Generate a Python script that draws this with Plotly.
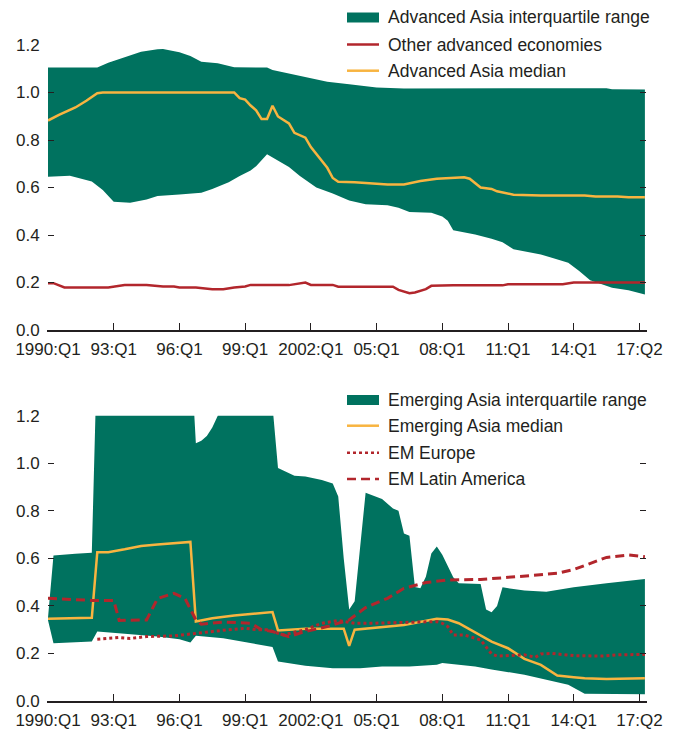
import plotly.graph_objects as go
from plotly.subplots import make_subplots

# x positions are quarter indexes, 0 = 1990:Q1, 109 = 2017:Q2
tick_q = [0, 12, 24, 36, 48, 60, 72, 84, 96, 108]
tick_labels = ["1990:Q1", "93:Q1", "96:Q1", "99:Q1", "2002:Q1", "05:Q1", "08:Q1", "11:Q1", "14:Q1", "17:Q2"]

# Top panel: advanced economies
adv_upper_q = [0, 9, 11, 14, 17, 20, 21, 24, 26, 28, 31, 34, 37, 40, 41, 44, 48, 51, 55, 60, 65, 74, 78, 96, 102, 103, 109]
adv_upper = [1.105, 1.105, 1.125, 1.148, 1.172, 1.182, 1.183, 1.17, 1.154, 1.13, 1.123, 1.106, 1.105, 1.105, 1.095,
             1.08, 1.058, 1.045, 1.035, 1.021, 1.017, 1.017, 1.015, 1.015, 1.018, 1.014, 1.013]

adv_lower_q = [0, 4, 8, 10, 12, 15, 18, 20, 24, 28, 30, 33, 35, 37, 38, 40, 44, 46, 49, 52, 55, 58, 62, 64, 66, 70,
               72, 73, 74, 78, 81, 83, 85, 90, 92, 95, 97, 99, 100, 103, 106, 109]
adv_lower = [0.645, 0.65, 0.625, 0.59, 0.54, 0.536, 0.55, 0.564, 0.571, 0.578, 0.594, 0.622, 0.648, 0.672, 0.69, 0.74,
             0.686, 0.648, 0.6, 0.575, 0.545, 0.53, 0.525, 0.515, 0.497, 0.494, 0.478, 0.46, 0.42, 0.402, 0.384, 0.37,
             0.34, 0.318, 0.304, 0.283, 0.248, 0.21, 0.2, 0.178, 0.167, 0.15]

adv_median_q = [0, 2, 5, 7, 9, 10, 34, 35, 36, 37, 38, 39, 40, 41, 42, 44, 45, 47, 48, 51, 52, 53, 56, 59, 62, 65, 68,
                71, 74, 76, 77, 79, 81, 82, 85, 90, 98, 100, 104, 106, 109]
adv_median = [0.882, 0.906, 0.937, 0.965, 0.997, 1.0, 1.0, 0.976, 0.97, 0.945, 0.925, 0.888, 0.888, 0.944, 0.899,
              0.87, 0.83, 0.81, 0.77, 0.683, 0.64, 0.624, 0.622, 0.617, 0.613, 0.613, 0.627, 0.637, 0.639, 0.643,
              0.637, 0.6, 0.594, 0.584, 0.57, 0.566, 0.566, 0.562, 0.562, 0.559, 0.559]

other_adv_q = [0, 1, 3, 11, 14, 18, 21, 23, 24, 27, 30, 32, 34, 36, 37, 39, 44, 47, 48, 52, 53, 63, 64, 66, 67, 69,
               70, 74, 83, 84, 94, 96, 109]
other_adv = [0.197, 0.197, 0.179, 0.179, 0.189, 0.189, 0.183, 0.183, 0.179, 0.179, 0.172, 0.172, 0.179, 0.183, 0.19,
             0.189, 0.189, 0.2, 0.19, 0.19, 0.182, 0.182, 0.169, 0.155, 0.158, 0.172, 0.186, 0.188, 0.188, 0.193,
             0.193, 0.2, 0.2]

# Bottom panel: emerging markets (upper quartile runs off the chart in the 1990s)
em_upper_q = [0, 1, 5, 8, 9, 26, 27, 28, 29, 30, 31, 32, 40, 41, 42, 45, 47, 50, 52, 53, 54, 55, 56, 58, 61, 63, 64,
              65, 66, 67, 68, 69, 70, 71, 72, 74, 75, 79, 80, 81, 82, 83, 84, 87, 91, 96, 102, 109]
em_upper = [0.35, 0.612, 0.619, 0.624, 1.5, 1.5, 1.084, 1.095, 1.115, 1.15, 1.2, 1.5, 1.5, 1.25, 0.98, 0.947, 0.944,
            0.93, 0.915, 0.86, 0.6, 0.385, 0.42, 0.876, 0.85, 0.81, 0.8, 0.705, 0.695, 0.48, 0.474, 0.523, 0.62,
            0.65, 0.615, 0.52, 0.495, 0.492, 0.385, 0.373, 0.4, 0.478, 0.474, 0.465, 0.46, 0.478, 0.495, 0.513]

em_lower_q = [0, 1, 8, 9, 14, 20, 24, 26, 27, 32, 37, 41, 42, 47, 52, 57, 61, 66, 71, 72, 78, 81, 87, 91, 95, 98, 109]
em_lower = [0.34, 0.243, 0.25, 0.292, 0.283, 0.271, 0.26, 0.246, 0.274, 0.264, 0.243, 0.227, 0.166, 0.148, 0.138,
            0.138, 0.145, 0.145, 0.152, 0.16, 0.145, 0.133, 0.11, 0.089, 0.068, 0.03, 0.028]

em_median_q = [0, 8, 9, 11, 14, 17, 20, 23, 26, 27, 30, 34, 37, 41, 42, 47, 54, 55, 56, 59, 65, 71, 73, 75, 79, 81,
               84, 87, 90, 93, 96, 98, 102, 109]
em_median = [0.346, 0.35, 0.626, 0.626, 0.638, 0.652, 0.658, 0.664, 0.669, 0.334, 0.348, 0.36, 0.367, 0.374, 0.297,
             0.304, 0.304, 0.232, 0.3, 0.306, 0.32, 0.346, 0.343, 0.327, 0.278, 0.25, 0.222, 0.177, 0.152, 0.107,
             0.1, 0.096, 0.093, 0.096]

em_europe_q = [9, 13, 15, 18, 23, 27, 30, 33, 36, 38, 40, 43, 47, 50, 53, 56, 59, 65, 71, 72, 73, 74, 76, 79, 81, 82,
               87, 89, 90, 92, 96, 101, 104, 109]
em_europe = [0.26, 0.267, 0.263, 0.271, 0.274, 0.285, 0.292, 0.3, 0.306, 0.3, 0.3, 0.278, 0.3, 0.327, 0.339, 0.327,
             0.327, 0.33, 0.334, 0.327, 0.313, 0.278, 0.278, 0.257, 0.198, 0.189, 0.194, 0.184, 0.198, 0.2, 0.191,
             0.189, 0.194, 0.196]

em_latam_q = [0, 8, 12, 13, 18, 20, 23, 25, 27, 28, 32, 37, 39, 41, 44, 47, 51, 55, 58, 62, 65, 69, 73, 79, 84, 90,
              93, 96, 99, 102, 106, 109]
em_latam = [0.432, 0.423, 0.423, 0.339, 0.341, 0.431, 0.453, 0.432, 0.341, 0.323, 0.332, 0.327, 0.3, 0.292, 0.271,
            0.292, 0.313, 0.341, 0.393, 0.432, 0.474, 0.498, 0.509, 0.511, 0.52, 0.53, 0.537, 0.553, 0.579, 0.604,
            0.614, 0.607]

GREEN = "#00725f"
ORANGE = "#f8b440"
RED = "#b2262c"
INK = "#231f20"
FONT = "Liberation Sans, Arial, sans-serif"

W, H = 680, 729
L, R, T, B = 48, 34, 45, 28


def fx(px):
    return (px - L) / (W - L - R)


def fy(py):
    return (H - B - py) / (H - T - B)


def band(up_q, up, lo_q, lo):
    # polygon: upper edge left-to-right, lower edge back
    return go.Scatter(x=up_q + lo_q[::-1], y=up + lo[::-1], fill="toself", fillcolor=GREEN,
                      mode="lines", line=dict(width=0, color=GREEN), hoverinfo="skip")


fig = make_subplots(rows=2, cols=1)

fig.add_trace(band(adv_upper_q, adv_upper, adv_lower_q, adv_lower), row=1, col=1)
fig.add_trace(go.Scatter(x=other_adv_q, y=other_adv, mode="lines", line=dict(color=RED, width=2.5)), row=1, col=1)
fig.add_trace(go.Scatter(x=adv_median_q, y=adv_median, mode="lines", line=dict(color=ORANGE, width=2.5)), row=1, col=1)

fig.add_trace(band(em_upper_q, em_upper, em_lower_q, em_lower), row=2, col=1)
fig.add_trace(go.Scatter(x=em_median_q, y=em_median, mode="lines", line=dict(color=ORANGE, width=2.5)), row=2, col=1)
fig.add_trace(go.Scatter(x=em_europe_q, y=em_europe, mode="lines",
                         line=dict(color=RED, width=3, dash="3px,3px")), row=2, col=1)
fig.add_trace(go.Scatter(x=em_latam_q, y=em_latam, mode="lines",
                         line=dict(color=RED, width=3, dash="9px,5px")), row=2, col=1)

xaxis_style = dict(range=[0, 109.2], tickmode="array", tickvals=tick_q, ticktext=tick_labels,
                   ticks="inside", ticklen=7, tickwidth=1.2, tickcolor=INK,
                   showline=True, linecolor=INK, linewidth=1.5, showgrid=False, zeroline=False,
                   automargin=False, ticklabelstandoff=3, tickfont=dict(size=17, color=INK, family=FONT))
yaxis_style = dict(range=[0, 1.2], tickmode="array", tickvals=[0, 0.2, 0.4, 0.6, 0.8, 1.0, 1.2],
                   ticktext=["0.0", "0.2", "0.4", "0.6", "0.8", "1.0", "1.2"],
                   ticks="inside", ticklen=6, tickwidth=1.2, tickcolor=INK,
                   showline=True, linecolor="rgba(0,0,0,0)", mirror="ticks",
                   showgrid=False, zeroline=False, automargin=False, ticklabelstandoff=4,
                   tickfont=dict(size=17, color=INK, family=FONT))

fig.update_xaxes(**xaxis_style)
fig.update_yaxes(**yaxis_style)
fig.update_layout(yaxis=dict(domain=[fy(330), 1]), yaxis2=dict(domain=[0, fy(415.7)]))

# Legends drawn by hand so the swatches match the original
legend_items = [
    ("fill", None, "Advanced Asia interquartile range", 17.5),
    ("line", (RED, "solid"), "Other advanced economies", 44.5),
    ("line", (ORANGE, "solid"), "Advanced Asia median", 70.7),
    ("fill", None, "Emerging Asia interquartile range", 400),
    ("line", (ORANGE, "solid"), "Emerging Asia median", 425.7),
    ("line", (RED, "3px,3px"), "EM Europe", 452.7),
    ("line", (RED, "9px,5px"), "EM Latin America", 479),
]
for kind, style, label, yc in legend_items:
    if kind == "fill":
        fig.add_shape(type="rect", xref="paper", yref="paper", x0=fx(347), x1=fx(379),
                      y0=fy(yc + 5), y1=fy(yc - 5), fillcolor=GREEN, line=dict(width=0))
    else:
        color, dash = style
        fig.add_shape(type="line", xref="paper", yref="paper", x0=fx(347), x1=fx(379),
                      y0=fy(yc), y1=fy(yc), line=dict(color=color, width=2.5, dash=dash))
    fig.add_annotation(xref="paper", yref="paper", x=fx(386), y=fy(yc), text=label, showarrow=False,
                       xanchor="left", yanchor="middle", font=dict(size=17.5, color=INK, family=FONT))

fig.update_layout(width=W, height=H, margin=dict(l=L, r=R, t=T, b=B), showlegend=False,
                  plot_bgcolor="white", paper_bgcolor="white", font=dict(family=FONT, color=INK))

# drop the browser's default 8px body margin so the figure fills the window exactly
fig.write_html("out.html", config={"displayModeBar": False},
               post_script="document.body.style.margin = '0';")
